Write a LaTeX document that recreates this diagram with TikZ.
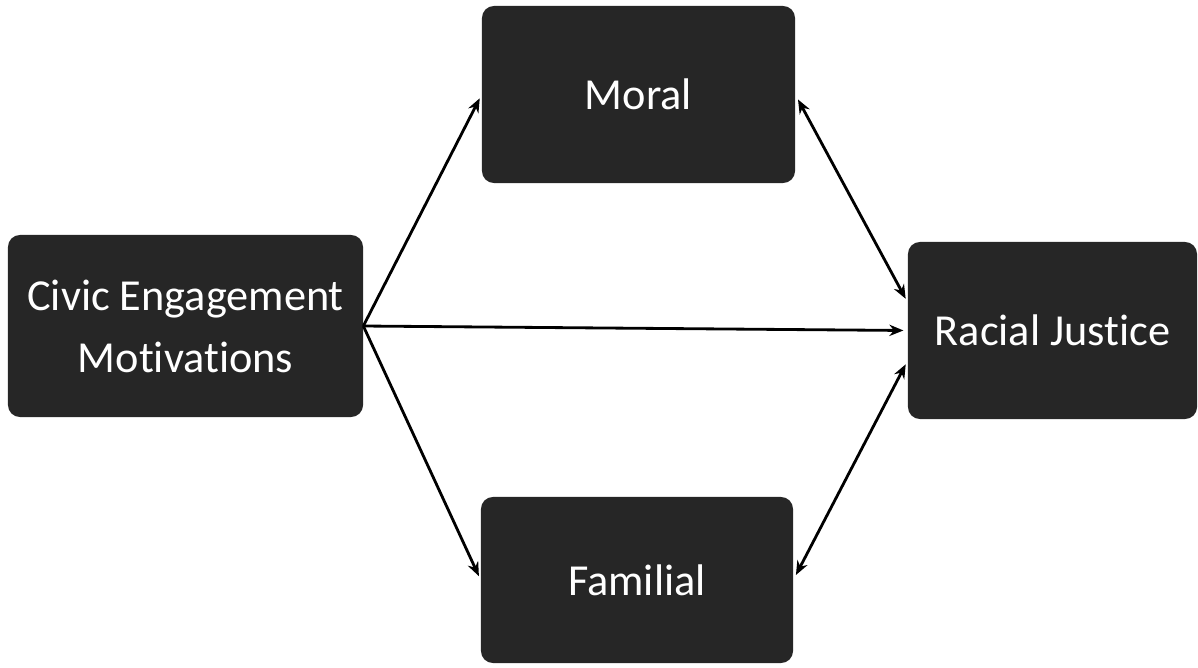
\documentclass[tikz,border=0pt]{standalone}
\usepackage{fontspec}
\setmainfont[Ligatures=NoCommon]{Carlito}
\usetikzlibrary{arrows.meta}
\definecolor{boxgray}{HTML}{262626}
\begin{document}
\begin{tikzpicture}[x=0.025cm, y=-0.025cm,
    motive/.style={fill=boxgray, rounded corners=0.3cm, text=white, align=center,
        inner sep=0pt, font=\fontsize{31.5}{44}\selectfont},
    link/.style={line width=2pt, -{Stealth[length=10pt, width=8pt]}, shorten >=3pt},
    twoway/.style={line width=2pt, {Stealth[length=10pt, width=8pt]}-{Stealth[length=10pt, width=8pt]}, shorten >=3pt, shorten <=4pt}]
    \useasboundingbox (0,0) rectangle (1198,667);
    \node[motive, minimum width=8.875cm, minimum height=4.55cm] (civic) at (185.5,326) {Civic Engagement\\Motivations};
    \node[motive, minimum width=7.825cm, minimum height=4.425cm] (moral) at (638.5,94.5) {Moral};
    \node[motive, minimum width=7.225cm, minimum height=4.425cm] (racial) at (1052.5,330.5) {Racial Justice};
    \node[motive, minimum width=7.8cm, minimum height=4.15cm] (familial) at (637,580) {Familial};
    \draw[link] (civic.east) -- (moral.west);
    \draw[link] (civic.east) -- (racial.west);
    \draw[link] (civic.east) -- (familial.west);
    \draw[twoway] (moral.east) -- ([yshift=0.7cm]racial.west);
    \draw[twoway] (familial.east) -- ([yshift=-0.75cm]racial.west);
\end{tikzpicture}
\end{document}
